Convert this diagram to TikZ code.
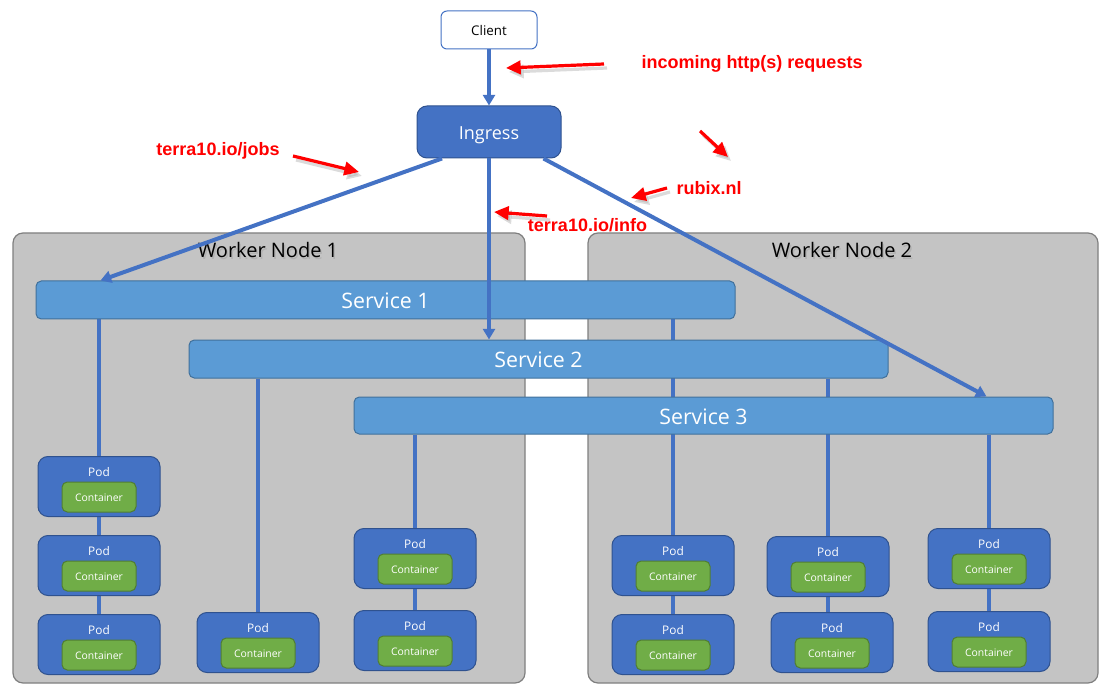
\documentclass[tikz,border=0pt]{standalone}
\usepackage{fontspec}
\setmainfont{Open Sans}
\newfontfamily\redfont{Liberation Sans}
\usetikzlibrary{arrows.meta,calc}
\definecolor{wgrey}{RGB}{196,196,196}
\definecolor{wborder}{RGB}{127,127,127}
\definecolor{sfill}{RGB}{91,155,213}
\definecolor{sborder}{RGB}{65,113,156}
\definecolor{bfill}{RGB}{68,114,196}
\definecolor{bborder}{RGB}{47,82,143}
\definecolor{gfill}{RGB}{112,173,71}
\definecolor{gborder}{RGB}{80,126,50}
\definecolor{lineblue}{RGB}{68,114,196}
\pgfdeclarelayer{bg}
\pgfdeclarelayer{lines}
\pgfsetlayers{bg,lines,main}
\newcommand\lowtxt[2]{\raisebox{-#1}[0pt][0pt]{#2}}
\tikzset{
  worker/.style={draw=wborder, fill=wgrey, line width=0.9pt, rounded corners=7.5pt,
    minimum height=337.5pt, inner sep=0pt},
  workertxt/.style={font=\fontsize{15}{18}\selectfont, text=black, inner sep=0pt},
  workershadow/.style={font=\fontsize{15}{18}\selectfont, text=black!30, inner sep=0pt},
  service/.style={draw=sborder, fill=sfill, line width=0.75pt, rounded corners=4pt,
    minimum width=524.25pt, minimum height=28.5pt, inner sep=0pt,
    font=\fontsize{16}{19}\selectfont, text=white},
  client/.style={draw=bfill, fill=white, line width=0.75pt, rounded corners=4.5pt,
    minimum width=72pt, minimum height=28.5pt, inner sep=0pt,
    font=\fontsize{10}{12}\selectfont, text=black},
  ingress/.style={draw=bborder, fill=bfill, line width=0.75pt, rounded corners=7.5pt,
    minimum width=108pt, minimum height=39pt, inner sep=0pt,
    font=\fontsize{13.5}{16}\selectfont, text=white},
  pod/.style={draw=bborder, fill=bfill, line width=0.75pt, rounded corners=7.5pt,
    minimum width=91.5pt, minimum height=45pt, inner sep=0pt},
  podtxt/.style={font=\fontsize{8.9}{10}\selectfont, text=white, inner sep=0pt},
  cont/.style={draw=gborder, fill=gfill, line width=0.75pt, rounded corners=4pt,
    minimum width=55.5pt, minimum height=22.5pt, inner sep=0pt,
    font=\fontsize{7.8}{9}\selectfont, text=white},
  conn/.style={draw=lineblue, line width=3pt},
  flow/.style={draw=lineblue, line width=3pt, -{Triangle[length=8pt,width=9pt]}},
  redarrow/.style={draw=red, line width=2.4pt, -{Triangle[length=11pt,width=10pt]}},
  redshadow/.style={draw=black!35, opacity=0.4, line width=2.4pt, -{Triangle[length=11pt,width=10pt]}},
  redtxt/.style={font=\redfont\bfseries\fontsize{13.5}{16}\selectfont, text=red, inner sep=0pt},
}
\newcommand\mkpod[3]{%
  \node[pod, anchor=north] (#1) at (#2,#3) {};
  \node[podtxt] (#1t) at (#2,#3+16) {Pod};
  \node[cont] (#1c) at (#2,#3+41) {\lowtxt{3.4pt}{Container}};
}
\begin{document}
\begin{tikzpicture}[x=0.75pt, y=-0.75pt]
\useasboundingbox (0,0) rectangle (1109,691);

% worker nodes
\begin{pgfonlayer}{bg}
\node[worker, minimum width=384pt] (wn1) at (269,458) {};
\node[worker, minimum width=382.5pt] (wn2) at (843,458) {};
\node[workershadow] at (269.5,252) {Worker Node 1};
\node[workertxt] (wn1t) at (268,250.5) {Worker Node 1};
\node[workershadow] at (843.5,252) {Worker Node 2};
\node[workertxt] (wn2t) at (842,250.5) {Worker Node 2};
\end{pgfonlayer}

% top nodes
\node[client] (client) at (489,30) {\lowtxt{4.3pt}{Client}};
\node[ingress] (ingress) at (489,132) {\lowtxt{5.9pt}{Ingress}};

% services
\node[service] (s1) at (385.5,300) {\lowtxt{6.5pt}{Service 1}};
\node[service] (s2) at (538.5,359) {\lowtxt{6.5pt}{Service 2}};
\node[service, minimum height=27.75pt] (s3) at (703.5,415.5) {\lowtxt{6.5pt}{Service 3}};

% pods
\mkpod{la}{99}{456}
\mkpod{lb}{99}{535}
\mkpod{lc}{99}{614}
\mkpod{lm}{258}{612}
\mkpod{lr}{415}{528}
\mkpod{ls}{415}{610}
\mkpod{ra}{673}{535}
\mkpod{rb}{673}{614}
\mkpod{rc}{828}{536}
\mkpod{rd}{832}{612}
\mkpod{re}{989}{528}
\mkpod{rf}{989}{611}

% service to pod lines
\begin{pgfonlayer}{lines}
\draw[conn] (s1.south -| la.north) -- (la.north);
\draw[conn] (la.south) -- (lb.north);
\draw[conn] (lb.south) -- (lc.north);
\draw[conn] (s1.south -| ra.north) -- (ra.north);
\draw[conn] (ra.south) -- (rb.north);
\draw[conn] (s2.south -| lm.north) -- (lm.north);
\draw[conn] (s2.south -| rc.north) -- (rc.north);
\draw[conn] (rc.south) -- (rc.south |- rd.north);
\draw[conn] (s3.south -| lr.north) -- (lr.north);
\draw[conn] (lr.south) -- (ls.north);
\draw[conn] (s3.south -| re.north) -- (re.north);
\draw[conn] (re.south) -- (rf.north);
\end{pgfonlayer}

% ingress flows
\coordinate (i1) at ([xshift=-35.25pt]ingress.south);
\coordinate (i3) at ([xshift=-13.5pt]ingress.south east);
\coordinate (t1) at ([xshift=48.75pt]s1.north west);
\coordinate (t3) at ([xshift=474.75pt]s3.north west);
\draw[flow] (client.south) -- (ingress.north);
\draw[flow] (i1) -- (t1);
\draw[flow] (ingress.south) -- (ingress.south |- s2.north);
\draw[flow] (i3) -- (t3);

% red annotations
\node[redtxt] (lbin) at (752,64) {incoming http(s) requests};
\node[redtxt] (lbjobs) at (218,151) {terra10.io/jobs};
\node[redtxt] (lbrubix) at (709,188) {rubix.nl};
\node[redtxt] (lbinfo) at (587.5,225) {terra10.io/info};

\coordinate (a1s) at (604,64);  \coordinate (a1e) at (506,68);
\coordinate (a2s) at (293,156); \coordinate (a2e) at (359,172);
\coordinate (a3s) at (700,131); \coordinate (a3e) at (728,157);
\coordinate (a4s) at (667,188); \coordinate (a4e) at (631,198);
\coordinate (a5s) at (547,216); \coordinate (a5e) at (494,212);

\foreach \s/\e in {a1s/a1e,a2s/a2e,a3s/a3e,a4s/a4e,a5s/a5e}{
  \draw[redshadow] ([shift={(3,4)}]\s) -- ([shift={(3,4)}]\e);
}
\draw[redarrow] (a1s) -- (a1e);
\draw[redarrow] (a2s) -- (a2e);
\draw[redarrow] (a3s) -- (a3e);
\draw[redarrow] (a4s) -- (a4e);
\draw[redarrow] (a5s) -- (a5e);
\end{tikzpicture}
\end{document}
